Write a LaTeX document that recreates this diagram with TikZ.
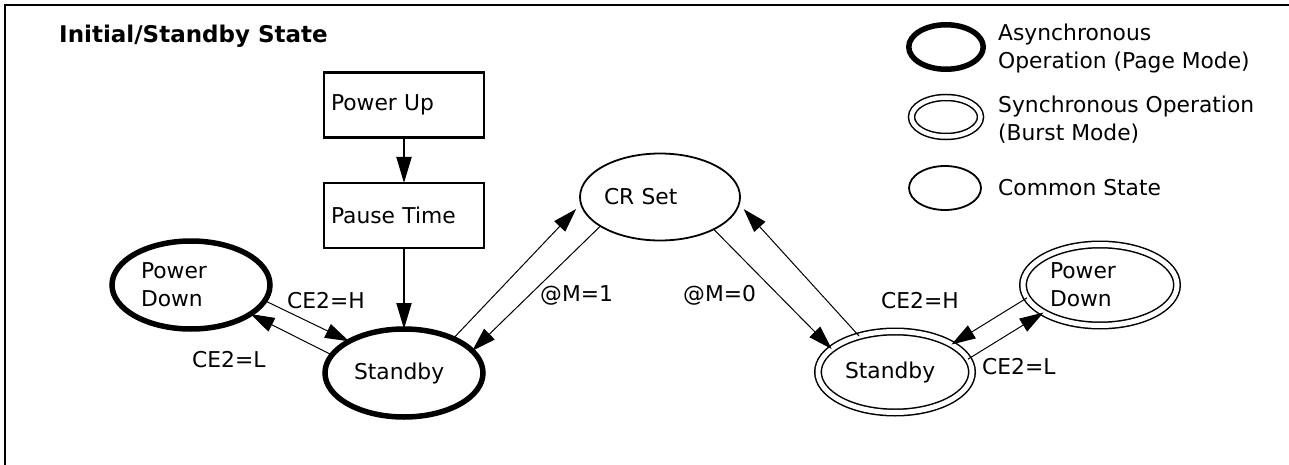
\documentclass[tikz,border=0pt]{standalone}
\usepackage{fontspec}
\setmainfont{DejaVu Sans}
\usetikzlibrary{shapes.geometric,arrows.meta}
\begin{document}
\begin{tikzpicture}[x=1pt,y=-1pt,
  every node/.style={font=\fontsize{21.8}{28}\selectfont},
  state/.style={ellipse, draw, inner sep=0pt, outer sep=0pt, text width=100pt, align=left, minimum width=160pt, minimum height=87pt},
  thickstate/.style={state, line width=5.5pt, minimum width=158pt, minimum height=88pt},
  commonstate/.style={state, line width=1.8pt},
  dblstate/.style={state, double, line width=1.5pt, double distance=5pt, minimum width=154pt, minimum height=81pt},
  legthick/.style={ellipse, draw, inner sep=0pt, line width=5.5pt, minimum width=74.5pt, minimum height=44.5pt},
  legdbl/.style={ellipse, draw, inner sep=0pt, double, line width=1.5pt, double distance=4.5pt, minimum width=69pt, minimum height=39pt},
  legcommon/.style={ellipse, draw, inner sep=0pt, line width=1.8pt, minimum width=72pt, minimum height=44pt},
  stepbox/.style={rectangle, draw, line width=2.5pt, inner sep=0pt, outer sep=0pt, minimum width=160pt, minimum height=65pt, text width=146pt, align=left},
  lbl/.style={anchor=base west, inner sep=0pt},
  flow/.style={line width=2pt, -{Triangle[length=26pt,width=15pt]}},
  trans/.style={line width=1pt, -{Triangle[length=24pt,width=15pt]}}
]
\useasboundingbox (0,0) rectangle (1289,465);
\draw[line width=2.5pt] (5,466) -- (5,5) -- (1290,5);

\node[lbl, font=\fontsize{23}{28}\selectfont\bfseries] (title) at (59,43) {Initial/Standby State};

% flow boxes
\node[stepbox] (pu) at (404,105) {Power Up};
\node[stepbox] (pt) at (404,215.5) {Pause Time};

% states
\node[thickstate] (pdL) at (191,285) {Power\\Down};
\node[thickstate] (sbL) at (404,373) {Standby};
\node[commonstate, text width=112pt] (cr) at (660,197) {CR Set};
\node[dblstate] (sbR) at (895,372) {Standby};
\node[dblstate] (pdR) at (1100,285) {Power\\Down};

% connectors
\draw[flow] (pu.south) -- (pt.north);
\draw[flow] (pt.south) -- (sbL.north);
\draw[trans] (pdL.-12.5) -- (sbL.150);
\draw[trans] (sbL.166) -- (pdL.-26.6);
\draw[trans, shorten >=7pt] (sbL.35) -- (cr.185);
\draw[trans] (cr.206.6) -- (sbL.18);
\draw[trans] (cr.-31.7) -- (sbR.160.6);
\draw[trans, shorten >=7pt] (sbR.135.7) -- (cr.-5);
\draw[trans] (pdR.190) -- (sbR.26);
\draw[trans] (sbR.10.5) -- (pdR.206.6);

% labels
\node[lbl] (ce2hL) at (287,308) {CE2=H};
\node[lbl] (ce2lL) at (192,367) {CE2=L};
\node[lbl] (m1) at (540,301) {@M=1};
\node[lbl] (m0) at (683,301) {@M=0};
\node[lbl] (ce2hR) at (881,308) {CE2=H};
\node[lbl] (ce2lR) at (982,374) {CE2=L};

% legend
\node[legthick] (lg1) at (946,47) {};
\node[legdbl] (lg2) at (946,117) {};
\node[legcommon] (lg3) at (945,188) {};
\node[lbl, align=left] (lt1) at (998,69) {Asynchronous\\Operation (Page Mode)};
\node[lbl, align=left] (lt2) at (998,141) {Synchronous Operation\\(Burst Mode)};
\node[lbl] (lt3) at (998,196) {Common State};
\end{tikzpicture}
\end{document}
